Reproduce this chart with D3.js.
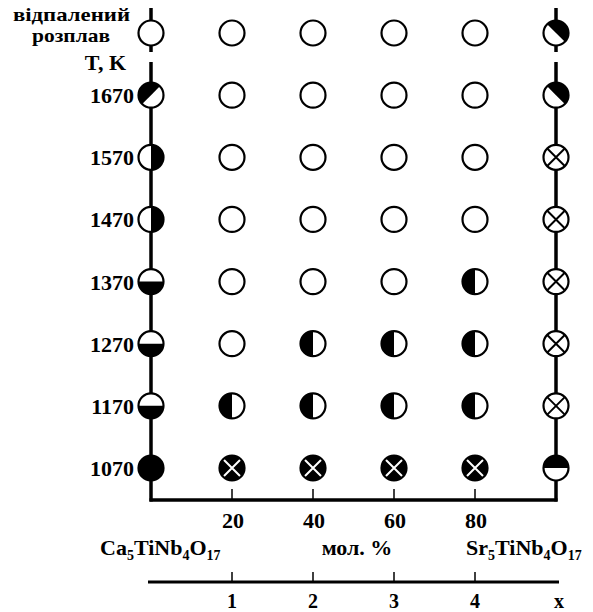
<!DOCTYPE html>
<html>
<head>
<meta charset="utf-8">
<script src="https://cdn.jsdelivr.net/npm/d3@7"></script>
<style>
  body { margin: 0; background: #fff; }
  text { font-family: "Liberation Serif", "Times New Roman", serif; font-weight: bold; fill: #000; }
</style>
</head>
<body>
<svg width="593" height="612"></svg>
<script>
// composition (mol. % Sr5TiNb4O17) and x values
const compositions = [0, 20, 40, 60, 80, 100];
const xValues = [1, 2, 3, 4];
const tickPercents = [20, 40, 60, 80];

// rows: annealed melt on top, then temperatures (K)
const rows = ["melt", 1670, 1570, 1470, 1370, 1270, 1170, 1070];

// phase symbol per row, per composition
// o = open, f = full, hl = left half black, hr = right half black,
// hb = bottom half black, ht = top half black,
// dl = diagonal upper-left black, dr = diagonal upper-right black,
// x = crossed open, xb = crossed black
const phases = {
    "melt": ["o",  "o",  "o",  "o",  "o",  "dr"],
    1670:   ["dl", "o",  "o",  "o",  "o",  "dr"],
    1570:   ["hr", "o",  "o",  "o",  "o",  "x"],
    1470:   ["hr", "o",  "o",  "o",  "o",  "x"],
    1370:   ["hb", "o",  "o",  "o",  "hl", "x"],
    1270:   ["hb", "o",  "hl", "hl", "hl", "x"],
    1170:   ["hb", "hl", "hl", "hl", "hl", "x"],
    1070:   ["f",  "xb", "xb", "xb", "xb", "ht"]
};

const svg = d3.select("svg");

const x = d3.scaleLinear().domain([0, 100]).range([151, 556]);
const y = d3.scalePoint().domain(rows).range([33, 468]);
const r = 12.5;
const baseY = 500;
const fs = 22;

// vertical boundary lines (with gap around "T, K")
[0, 100].forEach(c => {
    svg.append("line")
        .attr("x1", x(c)).attr("x2", x(c))
        .attr("y1", 8).attr("y2", 52)
        .attr("stroke", "#000").attr("stroke-width", 3.5);
    svg.append("line")
        .attr("x1", x(c)).attr("x2", x(c))
        .attr("y1", 62).attr("y2", baseY + 1.5)
        .attr("stroke", "#000").attr("stroke-width", 3.5);
});

// bottom composition axis
svg.append("line")
    .attr("x1", x(0) - 1.5).attr("x2", x(100) + 1.5)
    .attr("y1", baseY).attr("y2", baseY)
    .attr("stroke", "#000").attr("stroke-width", 3.5);

svg.append("g").selectAll("line")
    .data(tickPercents)
    .enter().append("line")
    .attr("x1", d => x(d)).attr("x2", d => x(d))
    .attr("y1", baseY - 11).attr("y2", baseY)
    .attr("stroke", "#000").attr("stroke-width", 1.5);

svg.append("g").selectAll("text")
    .data(tickPercents)
    .enter().append("text")
    .attr("x", d => x(d) + 1)
    .attr("y", 528)
    .attr("text-anchor", "middle")
    .attr("font-size", fs)
    .text(d => d);

// formula labels
function formula(sel, parts) {
    parts.forEach(p => {
        if (p.sub) {
            sel.append("tspan").attr("font-size", 14).attr("dy", 5).text(p.t);
        } else {
            sel.append("tspan").attr("font-size", fs).attr("dy", p.first ? 0 : -5).text(p.t);
        }
    });
}

const ca = svg.append("text").attr("x", 100).attr("y", 555);
formula(ca, [{t: "Ca", first: true}, {t: "5", sub: true}, {t: "TiNb"}, {t: "4", sub: true}, {t: "O"}, {t: "17", sub: true}]);

const sr = svg.append("text").attr("x", 466).attr("y", 555);
formula(sr, [{t: "Sr", first: true}, {t: "5", sub: true}, {t: "TiNb"}, {t: "4", sub: true}, {t: "O"}, {t: "17", sub: true}]);

svg.append("text")
    .attr("x", 357).attr("y", 555)
    .attr("text-anchor", "middle")
    .attr("font-size", fs)
    .text("мол. %");

// second axis: x in (Ca,Sr)5TiNb4O17
const lowY = 582;
svg.append("line")
    .attr("x1", x(0) - 3).attr("x2", x(100) + 3)
    .attr("y1", lowY).attr("y2", lowY)
    .attr("stroke", "#000").attr("stroke-width", 3);

svg.append("g").selectAll("line")
    .data(xValues)
    .enter().append("line")
    .attr("x1", d => x(d * 20)).attr("x2", d => x(d * 20))
    .attr("y1", lowY - 10).attr("y2", lowY)
    .attr("stroke", "#000").attr("stroke-width", 1.5);

svg.append("g").selectAll("text")
    .data(xValues)
    .enter().append("text")
    .attr("x", d => x(d * 20))
    .attr("y", 608)
    .attr("text-anchor", "middle")
    .attr("font-size", 20)
    .text(d => d);

svg.append("text")
    .attr("x", x(100) + 3).attr("y", 608)
    .attr("text-anchor", "middle")
    .attr("font-size", 20)
    .text("x");

// row labels
svg.append("g").selectAll("text")
    .data(rows.filter(d => d !== "melt"))
    .enter().append("text")
    .attr("x", 134)
    .attr("y", d => y(d) + 8)
    .attr("text-anchor", "end")
    .attr("font-size", fs)
    .text(d => d);

svg.append("text").attr("x", 13).attr("y", 20.5).attr("font-size", 19)
    .attr("textLength", 117).attr("lengthAdjust", "spacingAndGlyphs").text("відпалений");
svg.append("text").attr("x", 32).attr("y", 42).attr("font-size", 19)
    .attr("textLength", 78).attr("lengthAdjust", "spacingAndGlyphs").text("розплав");
svg.append("text").attr("x", 126).attr("y", 70).attr("text-anchor", "end").attr("font-size", fs).text("T, K");

// phase symbols
const halfAngles = {
    hr: [0, Math.PI],
    hl: [Math.PI, 2 * Math.PI],
    hb: [Math.PI / 2, 3 * Math.PI / 2],
    ht: [-Math.PI / 2, Math.PI / 2],
    dl: [5 * Math.PI / 4, 9 * Math.PI / 4],
    dr: [-Math.PI / 4, 3 * Math.PI / 4]
};
const arc = d3.arc().innerRadius(0).outerRadius(r);

const cells = [];
rows.forEach(row => {
    phases[row].forEach((p, i) => cells.push({ row, c: compositions[i], p }));
});

const cell = svg.append("g").selectAll("g")
    .data(cells)
    .enter().append("g")
    .attr("transform", d => `translate(${x(d.c)},${y(d.row)})`);

cell.append("circle")
    .attr("r", r)
    .attr("fill", d => (d.p === "f" || d.p === "xb") ? "#000" : "#fff");

cell.filter(d => halfAngles[d.p])
    .append("path")
    .attr("d", d => arc({ startAngle: halfAngles[d.p][0], endAngle: halfAngles[d.p][1] }))
    .attr("fill", "#000");

const k = r * 0.68;
cell.filter(d => d.p === "x" || d.p === "xb")
    .append("path")
    .attr("d", `M${-k},${-k}L${k},${k}M${-k},${k}L${k},${-k}`)
    .attr("stroke", d => d.p === "xb" ? "#fff" : "#000")
    .attr("stroke-width", 2);

cell.append("circle")
    .attr("r", r)
    .attr("fill", "none")
    .attr("stroke", "#000")
    .attr("stroke-width", 2.2);
</script>
</body>
</html>
